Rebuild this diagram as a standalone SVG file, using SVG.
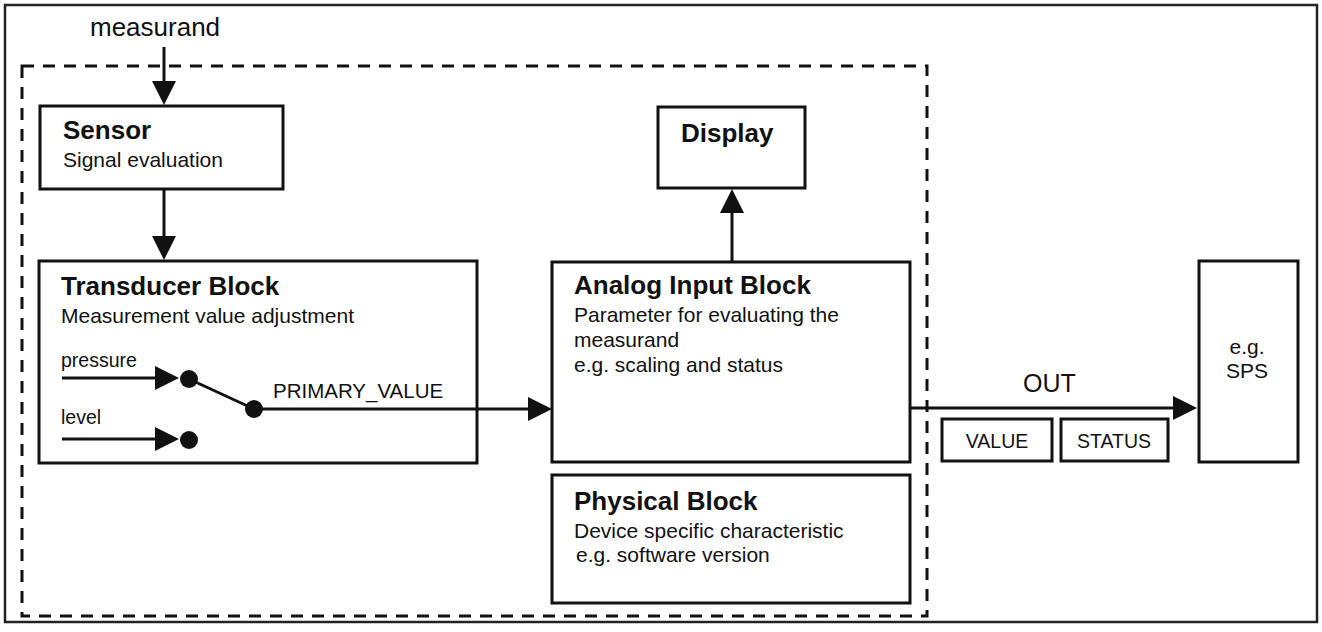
<svg xmlns="http://www.w3.org/2000/svg" width="1322" height="632" viewBox="0 0 1322 632">
<defs>
<marker id="arr" markerUnits="userSpaceOnUse" markerWidth="24" markerHeight="24" refX="12" refY="12" orient="auto">
<path d="M0,0 L24,12 L0,24 z" fill="#111"/>
</marker>
<style>
.box{fill:#fff;stroke:#111;stroke-width:3}
.t{font-family:"Liberation Sans",Arial,sans-serif;fill:#111}
.b{font-weight:bold;font-size:26px}
.r{font-size:21px}
.s{font-size:19.5px}
.ln{stroke:#111;stroke-width:3;fill:none}
</style>
</defs>
<rect x="0" y="0" width="1322" height="632" fill="#fff"/>
<rect x="5" y="5" width="1312" height="617" fill="none" stroke="#222" stroke-width="2.5"/>
<rect id="device-boundary" x="22" y="66" width="905" height="550" fill="none" stroke="#111" stroke-width="3" stroke-dasharray="12 9"/>

<text class="t" x="90" y="36" font-size="26">measurand</text>

<g id="sensor">
<rect class="box" x="40" y="106" width="243" height="83"/>
<text class="t b" x="63" y="139">Sensor</text>
<text class="t r" x="63" y="167">Signal evaluation</text>
</g>

<g id="transducer">
<rect class="box" x="39" y="261" width="438" height="202"/>
<text class="t b" x="61" y="295">Transducer Block</text>
<text class="t r" x="61" y="323">Measurement value adjustment</text>
<text class="t s" x="61" y="367">pressure</text>
<text class="t s" x="61" y="424">level</text>
<text class="t" x="273" y="398" font-size="20.5">PRIMARY_VALUE</text>
</g>

<g id="display">
<rect class="box" x="658" y="107" width="147" height="81"/>
<text class="t b" x="681" y="142">Display</text>
</g>

<g id="analog-input">
<rect class="box" x="552" y="262" width="358" height="200"/>
<text class="t b" x="574" y="294">Analog Input Block</text>
<text class="t r" x="574" y="322">Parameter for evaluating the</text>
<text class="t r" x="574" y="347">measurand</text>
<text class="t r" x="574" y="372">e.g. scaling and status</text>
</g>

<g id="physical">
<rect class="box" x="552" y="475" width="358" height="128"/>
<text class="t b" x="574" y="510">Physical Block</text>
<text class="t r" x="574" y="538">Device specific characteristic</text>
<text class="t r" x="576" y="562">e.g. software version</text>
</g>

<g id="sps">
<rect class="box" x="1199" y="261" width="99" height="201"/>
<text class="t r" x="1247" y="354" text-anchor="middle">e.g.</text>
<text class="t r" x="1247" y="378" text-anchor="middle">SPS</text>
</g>

<g id="value">
<rect class="box" x="942" y="419" width="110" height="42"/>
<text class="t s" x="997" y="448" text-anchor="middle">VALUE</text>
</g>
<g id="status">
<rect class="box" x="1061" y="419" width="107" height="42"/>
<text class="t s" x="1114" y="448" text-anchor="middle">STATUS</text>
</g>

<g id="connectors">
<line class="ln" x1="164" y1="47" x2="164" y2="93" marker-end="url(#arr)"/>
<line class="ln" x1="164" y1="189" x2="164" y2="248" marker-end="url(#arr)"/>
<line class="ln" x1="62" y1="378" x2="167" y2="378" marker-end="url(#arr)"/>
<line class="ln" x1="62" y1="439" x2="167" y2="439" marker-end="url(#arr)"/>
<circle cx="189" cy="379" r="9" fill="#111"/>
<circle cx="189" cy="440" r="9" fill="#111"/>
<line class="ln" x1="189" y1="379" x2="254" y2="409"/>
<circle cx="254" cy="409" r="9" fill="#111"/>
<line class="ln" x1="254" y1="409" x2="540" y2="409" marker-end="url(#arr)"/>
<line class="ln" x1="732" y1="262" x2="732" y2="201" marker-end="url(#arr)"/>
<line class="ln" x1="910" y1="408" x2="1185" y2="408" marker-end="url(#arr)"/>
<text class="t" x="1023" y="392" font-size="25">OUT</text>
</g>
</svg>
